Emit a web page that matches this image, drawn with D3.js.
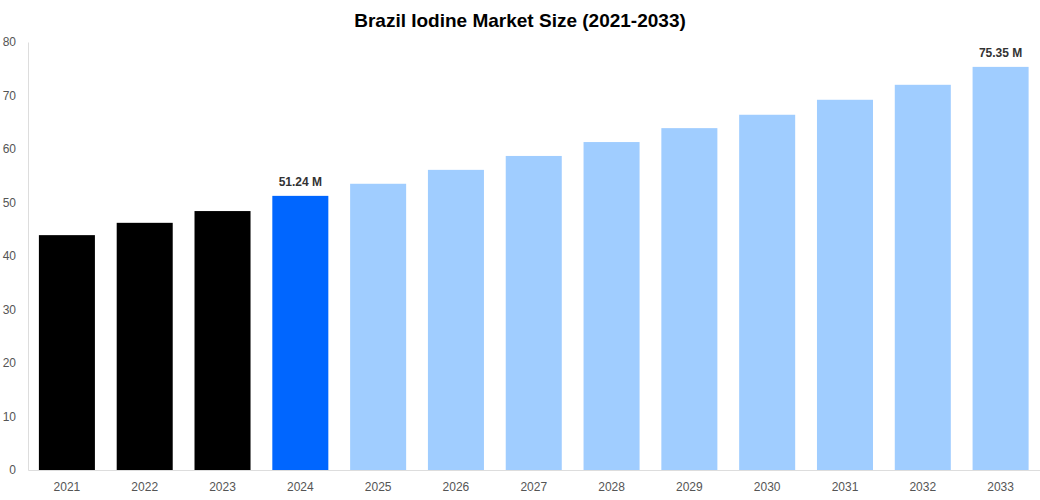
<!DOCTYPE html>
<html><head><meta charset="utf-8">
<script src="https://cdn.jsdelivr.net/npm/d3@7"></script>
<style>body{margin:0;background:#fff;font-family:Arial,"Liberation Sans",sans-serif}</style>
</head><body>
<script>
var years = ['2021','2022','2023','2024','2025','2026','2027','2028','2029','2030','2031','2032','2033'];
var values = [43.9, 46.2, 48.4, 51.24, 53.5, 56.1, 58.7, 61.3, 63.9, 66.4, 69.2, 72.0, 75.35];
var colors = ['#000000','#000000','#000000','#0066ff','#a0cdff','#a0cdff','#a0cdff','#a0cdff','#a0cdff','#a0cdff','#a0cdff','#a0cdff','#a0cdff'];
var labels = {'2024': '51.24 M', '2033': '75.35 M'};
var yTicks = [0,10,20,30,40,50,60,70,80];

var width = 1040, height = 500;
var plotLeft = 28, plotRight = 1039.5, plotTop = 42, plotBottom = 470;

var svg = d3.select('body').append('svg').attr('width', width).attr('height', height);

var x = d3.scaleBand().domain(years).range([plotLeft, plotRight]).paddingInner(0.28).paddingOuter(0.14);
var y = d3.scaleLinear().domain([0, 80]).range([plotBottom, plotTop]);

svg.append('text').attr('x', width / 2).attr('y', 27).attr('text-anchor', 'middle')
  .style('font-size', '19px').style('font-weight', 'bold').text('Brazil Iodine Market Size (2021-2033)');

svg.selectAll('rect.bar').data(years).enter().append('rect')
  .attr('x', function(d) { return x(d); })
  .attr('y', function(d, i) { return y(values[i]); })
  .attr('width', x.bandwidth())
  .attr('height', function(d, i) { return plotBottom - y(values[i]); })
  .style('fill', function(d, i) { return colors[i]; });

svg.selectAll('text.lbl').data(years.filter(function(d) { return labels[d]; })).enter().append('text')
  .attr('x', function(d) { return x(d) + x.bandwidth() / 2; })
  .attr('y', function(d) { return y(values[years.indexOf(d)]) - 10; })
  .attr('text-anchor', 'middle').style('font-size', '12px').style('font-weight', 'bold').style('fill', '#333')
  .text(function(d) { return labels[d]; });

var yAxis = svg.append('g').attr('transform', 'translate(' + plotLeft + ',0)')
  .call(d3.axisLeft(y).tickValues(yTicks).tickSize(0).tickPadding(12));
var xAxis = svg.append('g').attr('transform', 'translate(0,' + plotBottom + ')')
  .call(d3.axisBottom(x).tickSize(0).tickPadding(12));
[yAxis, xAxis].forEach(function(g) {
  g.select('.domain').style('stroke', '#ddd');
  g.selectAll('text').style('font-size', '12px').style('fill', '#555').style('font-family', 'Arial, "Liberation Sans", sans-serif');
});
</script>
</body></html>
